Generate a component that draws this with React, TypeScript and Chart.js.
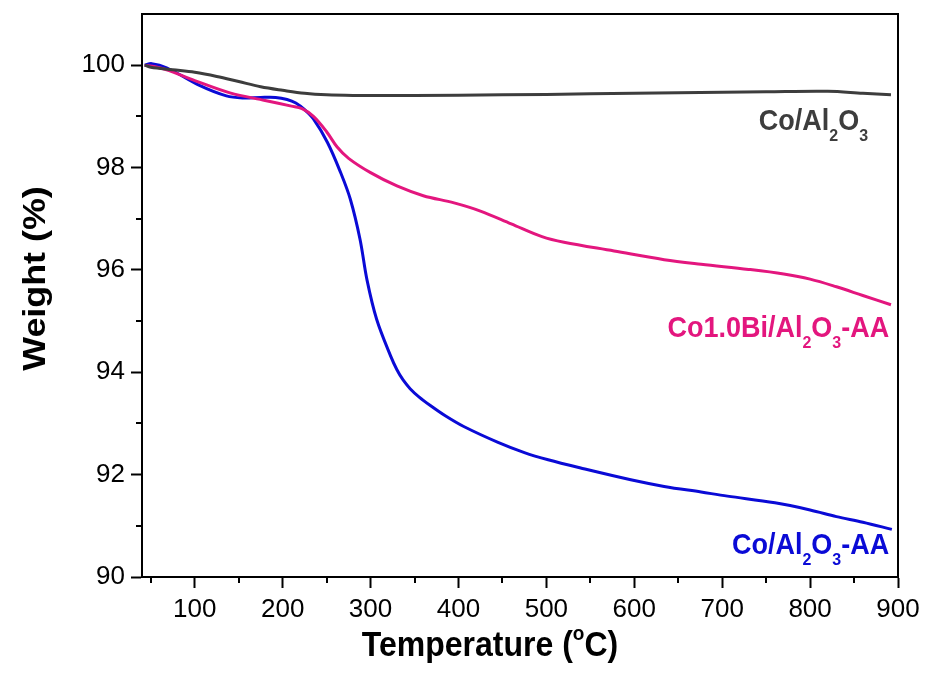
import React, { useEffect, useRef } from "react";
import { Chart, registerables } from "chart.js";

Chart.register(...registerables);

// ---- data ----
const grayT = [43, 50, 75, 100, 125, 150, 175, 200, 225, 250, 280, 350, 450, 550, 650, 750, 820, 860, 892];
const grayW = [100.0, 99.96, 99.91, 99.86, 99.78, 99.68, 99.58, 99.51, 99.45, 99.42, 99.41, 99.41, 99.42, 99.44, 99.46, 99.48, 99.49, 99.45, 99.42];

const pinkT = [43, 55, 70, 100, 140, 180, 210, 222, 235, 250, 262, 275, 300, 330, 360, 395, 425, 460, 495, 520, 577, 634, 676, 730, 770, 800, 830, 860, 892];
const pinkW = [100.0, 99.97, 99.9, 99.7, 99.46, 99.31, 99.2, 99.15, 99.0, 98.7, 98.4, 98.18, 97.9, 97.64, 97.45, 97.31, 97.15, 96.9, 96.65, 96.54, 96.37, 96.2, 96.11, 96.01, 95.92, 95.82, 95.67, 95.5, 95.32];

const blueT = [43, 51, 68, 106, 136, 155, 175, 192, 205, 215, 225, 235, 251, 266, 277, 288, 296, 307, 323, 330, 337, 345, 355, 368, 385, 406, 445, 475, 502, 539, 596, 634, 676, 706, 760, 800, 830, 860, 893];
const blueW = [100.0, 100.03, 99.95, 99.6, 99.4, 99.36, 99.37, 99.37, 99.33, 99.26, 99.13, 98.95, 98.49, 97.9, 97.38, 96.6, 95.8, 95.03, 94.31, 94.05, 93.85, 93.68, 93.52, 93.35, 93.15, 92.94, 92.63, 92.43, 92.29, 92.13, 91.9, 91.77, 91.66, 91.58, 91.45, 91.31, 91.18, 91.07, 90.93];

const xMajorTicks = [100, 200, 300, 400, 500, 600, 700, 800, 900];
const xMinorTicks = [50, 150, 250, 350, 450, 550, 650, 750, 850];
const yMajorTicks = [90, 92, 94, 96, 98, 100];
const yMinorTicks = [91, 93, 95, 97, 99];

const GRAY = "#3d3d3d";
const PINK = "#e3167e";
const BLUE = "#0a0ad6";

// labels: segments [text, kind] kind: n = normal, s = subscript, p = superscript
type Seg = [string, "n" | "s" | "p"];
const seriesLabels: { segs: Seg[]; x: number; y: number; color: string }[] = [
  { segs: [["Co/Al", "n"], ["2", "s"], ["O", "n"], ["3", "s"]], x: 866, y: 98.73, color: GRAY },
  { segs: [["Co1.0Bi/Al", "n"], ["2", "s"], ["O", "n"], ["3", "s"], ["-AA", "n"]], x: 890, y: 94.68, color: PINK },
  { segs: [["Co/Al", "n"], ["2", "s"], ["O", "n"], ["3", "s"], ["-AA", "n"]], x: 890, y: 90.45, color: BLUE },
];

const FONT = "'Liberation Sans', Arial, sans-serif";

function segFont(kind: string, base: number) {
  return kind === "n" ? `bold ${base}px ${FONT}` : `bold ${Math.round(base * 0.6)}px ${FONT}`;
}

// draws rich text with baseline at (x, y); sx/sy stretch the glyphs
function drawRich(
  ctx: CanvasRenderingContext2D,
  segs: Seg[],
  x: number,
  y: number,
  base: number,
  align: "left" | "right" | "center",
  sx = 1,
  sy = 1
) {
  let total = 0;
  for (const [t, k] of segs) {
    ctx.font = segFont(k, base);
    total += ctx.measureText(t).width;
  }
  ctx.save();
  ctx.translate(x, y);
  ctx.scale(sx, sy);
  let cx = align === "left" ? 0 : align === "right" ? -total : -total / 2;
  ctx.textAlign = "left";
  ctx.textBaseline = "alphabetic";
  for (const [t, k] of segs) {
    ctx.font = segFont(k, base);
    const dy = k === "s" ? base * 0.37 : k === "p" ? -base * 0.45 : 0;
    ctx.fillText(t, cx, dy);
    cx += ctx.measureText(t).width;
  }
  ctx.restore();
}

const decor = {
  id: "decor",
  afterDraw(chart: any) {
    const { ctx, chartArea: a, scales } = chart;
    const x = scales.x;
    const y = scales.y;
    ctx.save();
    ctx.strokeStyle = "#000";
    ctx.lineWidth = 2;
    ctx.beginPath();
    ctx.moveTo(a.left - 1, a.top);
    ctx.lineTo(a.right, a.top);
    ctx.lineTo(a.right, a.bottom + 1);
    ctx.stroke();
    ctx.beginPath();
    for (const v of xMinorTicks) {
      const px = Math.round(x.getPixelForValue(v));
      ctx.moveTo(px, a.bottom);
      ctx.lineTo(px, a.bottom + 6);
    }
    for (const v of yMinorTicks) {
      const py = Math.round(y.getPixelForValue(v));
      ctx.moveTo(a.left, py);
      ctx.lineTo(a.left - 6, py);
    }
    ctx.stroke();

    // series labels
    for (const l of seriesLabels) {
      ctx.fillStyle = l.color;
      drawRich(ctx, l.segs, x.getPixelForValue(l.x), y.getPixelForValue(l.y), 27, "right", 1, 1.08);
    }

    // axis titles
    ctx.fillStyle = "#000";
    drawRich(
      ctx,
      [["Temperature (", "n"], ["o", "p"], ["C)", "n"]],
      (a.left + a.right) / 2 - 30,
      656,
      32,
      "center",
      1,
      1.08
    );
    ctx.save();
    ctx.translate(45, (a.top + a.bottom) / 2 - 17);
    ctx.rotate(-Math.PI / 2);
    drawRich(ctx, [["Weight (%)", "n"]], 0, 0, 32, "center", 1.12, 1);
    ctx.restore();
    ctx.restore();
  },
};

function toPts(t: number[], w: number[]) {
  return t.map((v, i) => ({ x: v, y: w[i] }));
}

export default function App() {
  const ref = useRef<HTMLCanvasElement>(null);
  useEffect(() => {
    if (!ref.current) return;
    const tickFont = { family: FONT, size: 26 };
    const line = { borderWidth: 3, pointRadius: 0, tension: 0.35, fill: false };
    const chart = new Chart(ref.current, {
      type: "line",
      data: {
        datasets: [
          { label: "Co/Al2O3", data: toPts(grayT, grayW), borderColor: GRAY, ...line },
          { label: "Co1.0Bi/Al2O3-AA", data: toPts(pinkT, pinkW), borderColor: PINK, ...line },
          { label: "Co/Al2O3-AA", data: toPts(blueT, blueW), borderColor: BLUE, ...line },
        ],
      } as any,
      options: {
        animation: false,
        responsive: false,
        maintainAspectRatio: false,
        devicePixelRatio: 1,
        layout: { padding: { top: 14, right: 27, left: 0, bottom: 0 } },
        plugins: { legend: { display: false }, tooltip: { enabled: false } },
        scales: {
          x: {
            type: "linear",
            min: 40,
            max: 900,
            afterBuildTicks: (s: any) => {
              s.ticks = xMajorTicks.map((v) => ({ value: v }));
            },
            afterFit: (s: any) => {
              s.height = 102;
              s.paddingLeft = 0;
              s.paddingRight = 0;
            },
            ticks: { font: tickFont, color: "#000", padding: 6, maxRotation: 0, autoSkip: false },
            grid: { drawOnChartArea: false, drawTicks: true, tickLength: 11, tickWidth: 2, tickColor: "#000" },
            border: { display: true, color: "#000", width: 2 },
          },
          y: {
            type: "linear",
            min: 90,
            max: 101,
            afterBuildTicks: (s: any) => {
              s.ticks = yMajorTicks.map((v) => ({ value: v }));
            },
            afterFit: (s: any) => {
              s.width = 142;
              s.paddingTop = 0;
              s.paddingBottom = 0;
            },
            ticks: { font: tickFont, color: "#000", padding: 6, autoSkip: false },
            grid: { drawOnChartArea: false, drawTicks: true, tickLength: 11, tickWidth: 2, tickColor: "#000" },
            border: { display: true, color: "#000", width: 2 },
          },
        },
      } as any,
      plugins: [decor],
    });
    return () => chart.destroy();
  }, []);
  return (
    <div style={{ position: "fixed", left: 0, top: 0, width: 925, height: 679, background: "#fff" }}>
      <canvas ref={ref} width={925} height={679} style={{ display: "block", width: 925, height: 679 }} />
    </div>
  );
}
